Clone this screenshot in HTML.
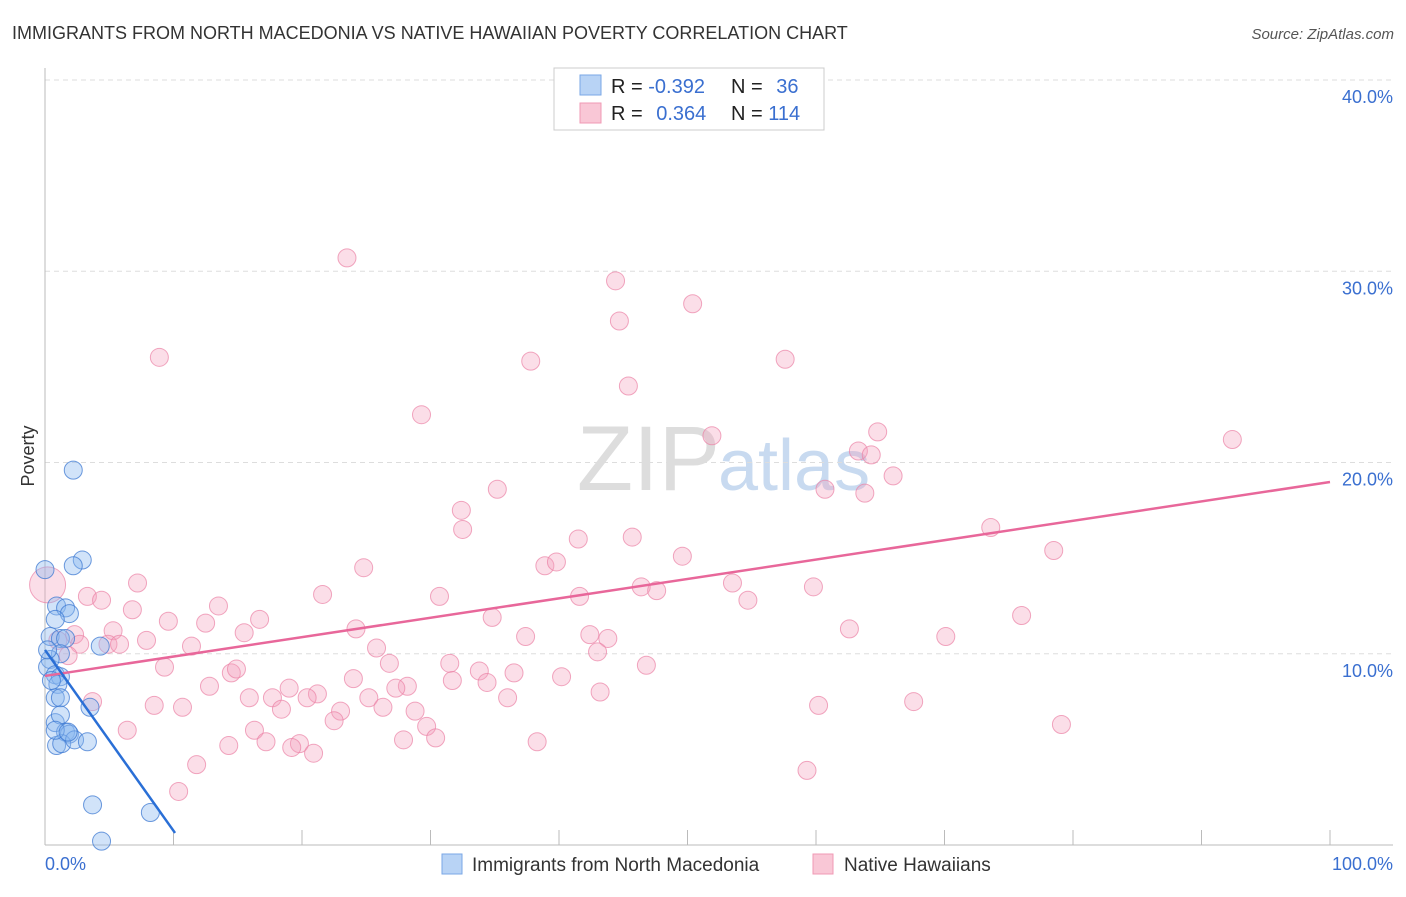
<!DOCTYPE html>
<html><head><meta charset="utf-8"><style>
body{margin:0;background:#fff;font-family:"Liberation Sans",sans-serif}
svg text{font-family:"Liberation Sans",sans-serif}
</style></head><body>
<svg id="chart" width="1406" height="892">
<text x="12" y="39" font-size="18" fill="#333">IMMIGRANTS FROM NORTH MACEDONIA VS NATIVE HAWAIIAN POVERTY CORRELATION CHART</text>
<text x="1394" y="39" font-size="15" fill="#555" font-style="italic" text-anchor="end">Source: ZipAtlas.com</text>
<text x="720" y="490" font-size="92" fill="#ddd" text-anchor="end" font-family="Liberation Serif">ZIP</text>
<text x="718" y="490" font-size="72" fill="#c8daf0">atlas</text>
<g id="grid"></g><g id="pts"></g><g id="lines"></g>
<text x="34" y="456" font-size="18" fill="#333" transform="rotate(-90 34 456)" text-anchor="middle">Poverty</text>
<g>
<rect x="554" y="68" width="270" height="62" fill="#fff" stroke="#ccc"/>
<rect x="580" y="75" width="21" height="20" fill="#b8d3f5" stroke="#7aa7e6"/>
<rect x="580" y="103" width="21" height="20" fill="#f9c7d6" stroke="#f09ab4"/>
<text x="611" y="93" font-size="20" fill="#222">R = <tspan fill="#3a6fd0">-0.392</tspan></text>
<text x="731" y="93" font-size="20" fill="#222">N = <tspan fill="#3a6fd0" dx="8">36</tspan></text>
<text x="611" y="120" font-size="20" fill="#222">R = <tspan fill="#3a6fd0" dx="8">0.364</tspan></text>
<text x="731" y="120" font-size="20" fill="#222">N = <tspan fill="#3a6fd0">114</tspan></text>
</g>
<g>
<rect x="442" y="854" width="20" height="20" fill="#b8d3f5" stroke="#7aa7e6"/>
<text x="472" y="871" font-size="19" fill="#333">Immigrants from North Macedonia</text>
<rect x="813" y="854" width="20" height="20" fill="#f9c7d6" stroke="#f09ab4"/>
<text x="844" y="871" font-size="19" fill="#333">Native Hawaiians</text>
</g>
</svg>
<script>
const yTicks=[10,20,30,40];
const xTickLabels=["0.0%","100.0%"];
const pinkX=[0.2,23.5,44.4,50.4,44.7,8.9,37.8,57.6,45.4,29.3,51.9,92.4,64.8,63.3,64.3,66.0,35.2,60.7,63.8,32.4,32.5,73.6,41.5,45.7,78.5,49.6,38.9,39.8,24.8,7.2,53.5,46.4,47.6,59.8,3.3,4.4,21.6,30.7,41.6,54.7,13.5,6.8,76.0,9.6,34.8,12.5,16.7,5.3,24.2,62.6,15.5,37.4,42.4,43.8,70.1,2.3,7.9,1.0,2.7,4.9,5.8,11.4,25.8,1.8,43.0,9.3,26.8,31.5,14.5,46.8,33.8,36.5,40.2,14.9,31.7,34.4,24.0,12.8,19.0,28.2,27.3,21.2,43.2,3.7,15.9,20.4,17.7,25.2,36.0,8.5,10.7,18.4,26.3,23.0,28.8,60.2,67.6,22.5,29.7,6.4,16.3,30.4,14.3,17.2,19.8,27.9,38.3,19.2,20.9,79.1,11.8,59.3,10.4];
const pinkY=[13.6,30.7,29.5,28.3,27.4,25.5,25.3,25.4,24.0,22.5,21.4,21.2,21.6,20.6,20.4,19.3,18.6,18.6,18.4,17.5,16.5,16.6,16.0,16.1,15.4,15.1,14.6,14.8,14.5,13.7,13.7,13.5,13.3,13.5,13.0,12.8,13.1,13.0,13.0,12.8,12.5,12.3,12.0,11.7,11.9,11.6,11.8,11.2,11.3,11.3,11.1,10.9,11.0,10.8,10.9,11.0,10.7,10.7,10.5,10.5,10.5,10.4,10.3,9.9,10.1,9.3,9.5,9.5,9.0,9.4,9.1,9.0,8.8,9.2,8.6,8.5,8.7,8.3,8.2,8.3,8.2,7.9,8.0,7.5,7.7,7.7,7.7,7.7,7.7,7.3,7.2,7.1,7.2,7.0,7.0,7.3,7.5,6.5,6.2,6.0,6.0,5.6,5.2,5.4,5.3,5.5,5.4,5.1,4.8,6.3,4.2,3.9,2.8];
const blueX=[0.0,2.2,2.9,2.2,0.9,1.6,1.9,0.8,0.4,1.2,1.6,4.3,1.2,0.4,0.2,0.8,1.2,1.0,0.8,1.2,3.5,0.8,1.2,1.6,1.9,0.9,1.3,2.3,3.3,0.8,3.7,8.2,4.4,0.2,0.5,1.8];
const blueY=[14.4,19.6,14.9,14.6,12.5,12.4,12.1,11.8,10.9,10.8,10.8,10.4,10.0,9.7,9.3,8.9,8.8,8.4,7.7,7.7,7.2,6.4,6.8,5.9,5.8,5.2,5.3,5.5,5.4,6.0,2.1,1.7,0.2,10.2,8.6,5.9];
const pinkTrend=[8.84,18.98];
const blueTrend=[10.2,0.63,10.12];
const NS="http://www.w3.org/2000/svg";
const X=v=>45+v*12.85, Y=v=>845-v*19.125;
function mk(tag,attrs,parent){const e=document.createElementNS(NS,tag);for(const k in attrs)e.setAttribute(k,attrs[k]);parent.appendChild(e);return e;}
const grid=document.getElementById('grid'),pts=document.getElementById('pts'),lines=document.getElementById('lines');
yTicks.forEach(t=>{
 const l=mk('line',{x1:45,x2:1393,y1:Y(t),y2:Y(t),stroke:'#ddd','stroke-dasharray':'5,4'},grid);
 
 
 const tx=mk('text',{x:1393,y:Y(t)+23,'font-size':18,fill:'#3a6fd0','text-anchor':'end'},grid);
 tx.textContent=t.toFixed(1)+'%';
 
 
});
const ax=mk('line',{x1:45,x2:45,y1:68,y2:845,stroke:'#bbb'},grid);


const bx=mk('line',{x1:45,x2:1393,y1:845,y2:845,stroke:'#bbb'},grid);


for(let i=1;i<=10;i++){const t=mk('line',{x1:X(i*10),x2:X(i*10),y1:830,y2:845,stroke:'#bbb'},grid);
 
 }
xTickLabels.forEach((s,i)=>{const t=mk('text',{x:i?1393:45,y:870,'font-size':18,fill:'#3a6fd0','text-anchor':i?'end':'start'},grid);t.textContent=s;
 
 });
pinkX.forEach((x,i)=>{const c=mk('circle',{cx:X(x),cy:Y(pinkY[i]),r:i===0?18:9,fill:'rgba(244,160,188,0.35)',stroke:'rgba(235,130,165,0.7)','stroke-width':1},pts);
 
 });
blueX.forEach((x,i)=>{const c=mk('circle',{cx:X(x),cy:Y(blueY[i]),r:9,fill:'rgba(140,185,240,0.4)',stroke:'rgba(60,120,210,0.75)','stroke-width':1},pts);
 
 });
const pl=mk('line',{x1:X(0),y1:Y(pinkTrend[0]),x2:X(100),y2:Y(pinkTrend[1]),stroke:'#e8679a','stroke-width':2.5},lines);


const bl=mk('line',{x1:X(0),y1:Y(blueTrend[0]),x2:X(blueTrend[2]),y2:Y(blueTrend[1]),stroke:'#2a6fd6','stroke-width':2.5},lines);


</script>
</body></html>
